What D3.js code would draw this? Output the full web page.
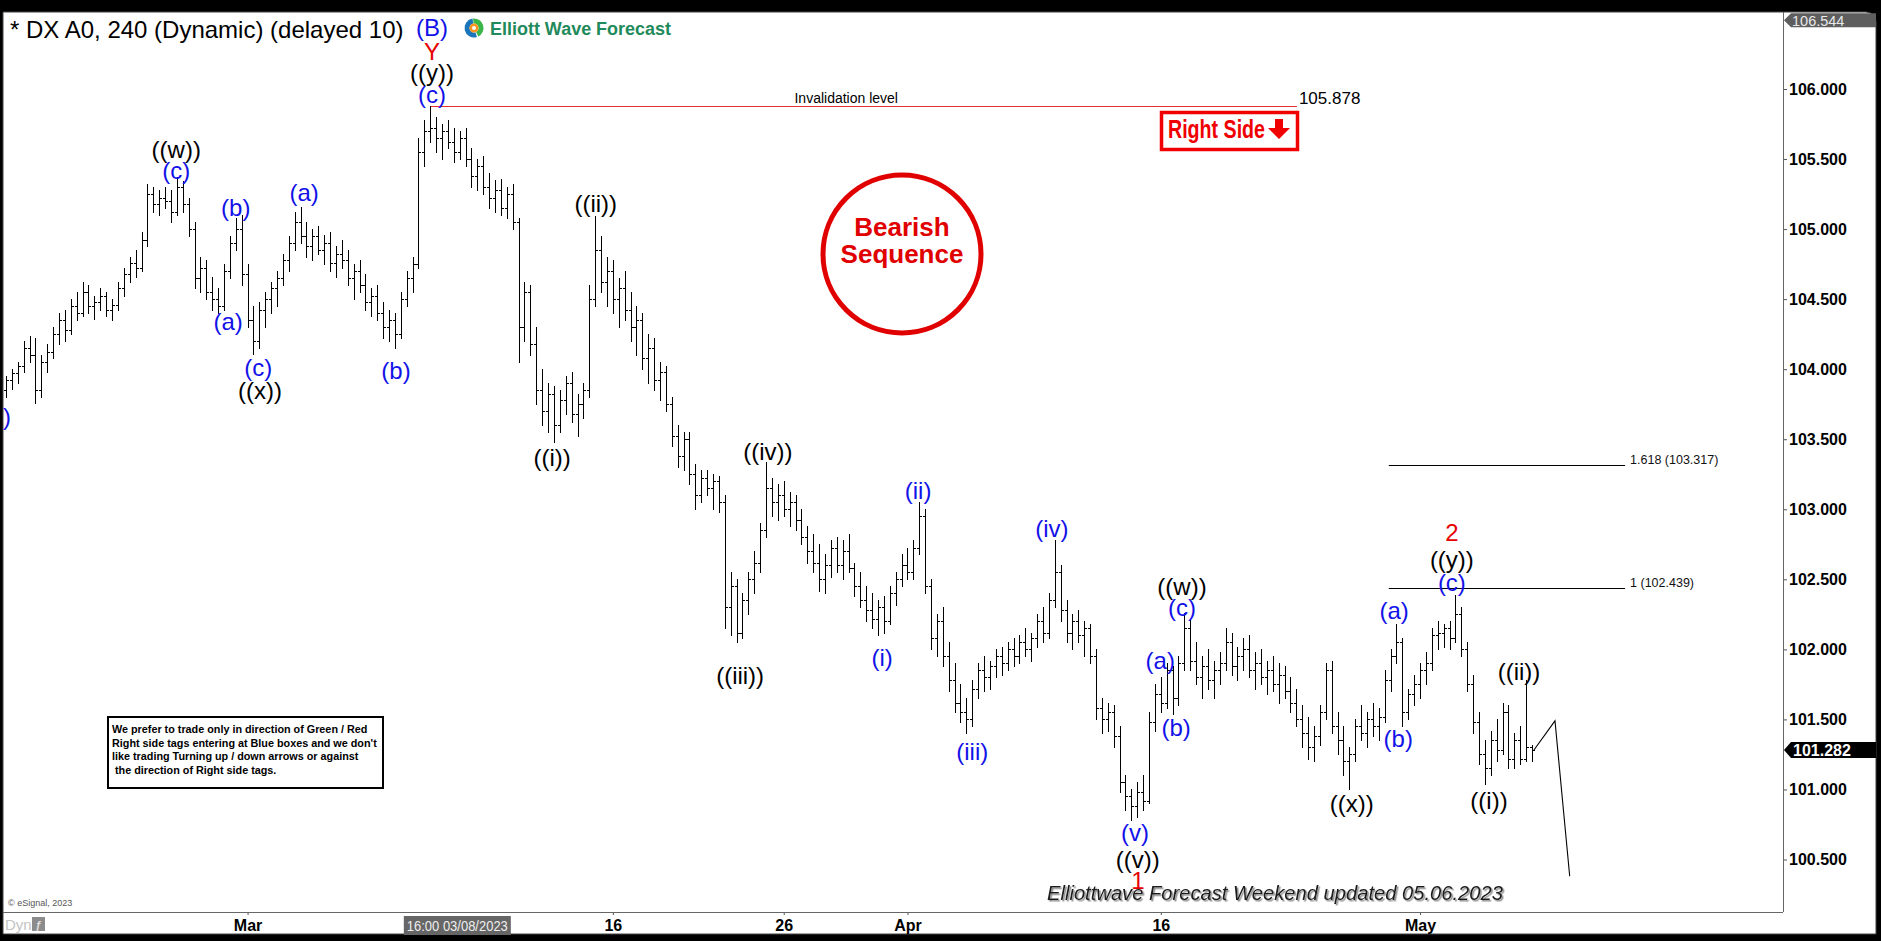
<!DOCTYPE html>
<html><head><meta charset="utf-8">
<script src="https://cdn.jsdelivr.net/npm/d3@7"></script>
<style>
html,body{margin:0;padding:0;background:#000;overflow:hidden}
svg{display:block}
text{font-family:"Liberation Sans",Arial,Helvetica,sans-serif}
</style></head><body>
<svg id="c" width="1881" height="941"></svg>
<script>
// ---- DATA ----
// 4H OHLC bars: [open, high, low, close]
const bars = [
[103.85,103.95,103.80,103.92],[103.92,104.00,103.86,103.97],[103.97,104.05,103.90,104.02],[104.02,104.20,103.98,104.15],
[104.15,104.24,104.05,104.10],[104.10,104.22,103.76,103.85],[103.85,104.10,103.80,104.05],[104.05,104.18,103.98,104.12],
[104.12,104.30,104.08,104.25],[104.25,104.40,104.18,104.35],[104.35,104.42,104.20,104.28],[104.28,104.50,104.25,104.45],
[104.45,104.55,104.35,104.40],[104.40,104.62,104.38,104.55],[104.55,104.60,104.40,104.45],[104.45,104.52,104.36,104.48],
[104.48,104.58,104.42,104.52],[104.52,104.55,104.38,104.42],[104.42,104.50,104.35,104.46],[104.46,104.62,104.42,104.58],
[104.58,104.72,104.52,104.68],[104.68,104.80,104.62,104.76],[104.76,104.85,104.66,104.72],[104.72,104.98,104.70,104.92],
[104.92,105.32,104.88,105.25],[105.25,105.30,105.12,105.18],[105.18,105.28,105.10,105.22],[105.22,105.30,105.15,105.20],
[105.20,105.28,105.05,105.12],[105.12,105.37,105.10,105.30],[105.30,105.34,105.12,105.18],[105.18,105.22,104.95,105.00],
[105.00,105.05,104.58,104.65],[104.65,104.80,104.55,104.72],[104.72,104.78,104.50,104.55],[104.55,104.66,104.42,104.50],
[104.50,104.58,104.40,104.45],[104.45,104.75,104.42,104.70],[104.70,104.95,104.65,104.90],[104.90,105.08,104.85,105.00],
[105.00,105.10,104.60,104.68],[104.68,104.75,104.30,104.35],[104.35,104.45,104.11,104.20],[104.20,104.48,104.15,104.42],
[104.42,104.55,104.30,104.50],[104.50,104.62,104.40,104.58],[104.58,104.70,104.45,104.65],[104.65,104.82,104.60,104.78],
[104.78,104.95,104.70,104.90],[104.90,105.12,104.85,105.05],[105.05,105.16,104.90,104.95],[104.95,105.05,104.80,104.88],
[104.88,105.00,104.78,104.95],[104.95,105.02,104.82,104.85],[104.85,104.96,104.75,104.90],[104.90,104.98,104.70,104.76],
[104.76,104.88,104.66,104.82],[104.82,104.92,104.72,104.78],[104.78,104.85,104.60,104.65],[104.65,104.75,104.50,104.70],
[104.70,104.78,104.55,104.60],[104.60,104.68,104.42,104.48],[104.48,104.58,104.38,104.52],[104.52,104.60,104.35,104.40],
[104.40,104.48,104.22,104.30],[104.30,104.42,104.20,104.35],[104.35,104.40,104.15,104.25],[104.25,104.55,104.22,104.50],
[104.50,104.70,104.45,104.65],[104.65,104.80,104.55,104.75],[104.75,105.65,104.72,105.55],[105.55,105.78,105.45,105.70],
[105.70,105.878,105.62,105.72],[105.72,105.80,105.55,105.65],[105.65,105.75,105.50,105.70],[105.70,105.78,105.58,105.62],
[105.62,105.72,105.48,105.55],[105.55,105.70,105.50,105.65],[105.65,105.72,105.45,105.50],[105.50,105.58,105.30,105.38],
[105.38,105.50,105.28,105.45],[105.45,105.52,105.25,105.30],[105.30,105.40,105.15,105.22],[105.22,105.35,105.12,105.28],
[105.28,105.36,105.10,105.15],[105.15,105.30,105.08,105.25],[105.25,105.32,105.00,105.05],[105.05,105.08,104.05,104.30],
[104.30,104.62,104.20,104.55],[104.55,104.60,104.10,104.18],[104.18,104.30,103.75,103.85],[103.85,104.00,103.60,103.70],
[103.70,103.90,103.55,103.82],[103.82,103.88,103.48,103.60],[103.60,103.85,103.55,103.78],[103.78,103.95,103.68,103.90],
[103.90,103.98,103.62,103.68],[103.68,103.82,103.52,103.75],[103.75,103.90,103.65,103.85],[103.85,104.60,103.80,104.50],
[104.50,105.09,104.45,104.85],[104.85,104.95,104.55,104.62],[104.62,104.80,104.45,104.70],[104.70,104.78,104.40,104.50],
[104.50,104.65,104.30,104.58],[104.58,104.70,104.35,104.42],[104.42,104.55,104.20,104.30],[104.30,104.45,104.10,104.35],
[104.35,104.40,104.00,104.08],[104.08,104.25,103.90,104.15],[104.15,104.22,103.85,103.92],[103.92,104.05,103.78,103.98],
[103.98,104.02,103.70,103.75],[103.75,103.80,103.45,103.52],[103.52,103.60,103.30,103.38],[103.38,103.55,103.28,103.50],
[103.50,103.55,103.18,103.25],[103.25,103.32,103.00,103.10],[103.10,103.28,103.05,103.22],[103.22,103.28,103.10,103.15],
[103.15,103.25,103.00,103.20],[103.20,103.24,102.98,103.05],[103.05,103.10,102.15,102.30],[102.30,102.55,102.10,102.45],
[102.45,102.50,102.05,102.12],[102.12,102.40,102.08,102.35],[102.35,102.55,102.25,102.50],[102.50,102.70,102.40,102.62],
[102.62,102.90,102.55,102.85],[102.85,103.34,102.80,103.15],[103.15,103.22,102.95,103.05],[103.05,103.18,102.92,103.10],
[103.10,103.20,102.95,103.00],[103.00,103.12,102.88,103.05],[103.05,103.10,102.85,102.92],[102.92,103.00,102.75,102.80],
[102.80,102.88,102.62,102.70],[102.70,102.82,102.55,102.62],[102.62,102.75,102.42,102.50],[102.50,102.68,102.40,102.60],
[102.60,102.78,102.52,102.72],[102.72,102.80,102.55,102.60],[102.60,102.78,102.50,102.70],[102.70,102.82,102.55,102.58],
[102.58,102.62,102.38,102.45],[102.45,102.55,102.30,102.35],[102.35,102.45,102.20,102.28],[102.28,102.40,102.15,102.22],
[102.22,102.35,102.10,102.30],[102.30,102.38,102.12,102.20],[102.20,102.45,102.18,102.40],[102.40,102.55,102.32,102.50],
[102.50,102.68,102.45,102.60],[102.60,102.72,102.50,102.55],[102.55,102.78,102.50,102.72],[102.72,103.05,102.68,102.95],
[102.95,103.00,102.40,102.45],[102.45,102.50,102.00,102.08],[102.08,102.25,101.95,102.20],[102.20,102.30,101.88,101.95],
[101.95,102.05,101.70,101.78],[101.78,101.90,101.55,101.62],[101.62,101.75,101.48,101.55],[101.55,101.65,101.40,101.50],
[101.50,101.78,101.45,101.72],[101.72,101.90,101.65,101.85],[101.85,101.95,101.70,101.80],[101.80,101.92,101.72,101.88],
[101.88,102.00,101.80,101.95],[101.95,102.02,101.82,101.90],[101.90,102.05,101.85,102.00],[102.00,102.08,101.88,101.95],
[101.95,102.10,101.90,102.05],[102.05,102.15,101.95,102.00],[102.00,102.12,101.92,102.08],[102.08,102.25,102.02,102.20],
[102.20,102.30,102.05,102.12],[102.12,102.40,102.08,102.35],[102.35,102.78,102.30,102.55],[102.55,102.60,102.20,102.28],
[102.28,102.35,102.05,102.12],[102.12,102.25,102.00,102.20],[102.20,102.28,102.05,102.10],[102.10,102.20,101.95,102.15],
[102.15,102.18,101.90,101.95],[101.95,102.00,101.50,101.58],[101.58,101.65,101.40,101.50],[101.50,101.62,101.42,101.55],
[101.55,101.60,101.30,101.38],[101.38,101.45,100.98,101.05],[101.05,101.10,100.85,100.95],[100.95,101.00,100.78,100.88],
[100.88,101.05,100.80,100.98],[100.98,101.10,100.85,100.92],[100.92,101.55,100.90,101.48],[101.48,101.75,101.42,101.68],
[101.68,101.80,101.55,101.62],[101.62,101.90,101.58,101.85],[101.85,101.88,101.54,101.65],[101.65,101.95,101.60,101.90],
[101.90,102.26,101.85,102.15],[102.15,102.22,101.85,101.92],[101.92,102.05,101.75,101.80],[101.80,101.95,101.65,101.88],
[101.88,102.00,101.72,101.78],[101.78,101.92,101.65,101.85],[101.85,101.98,101.75,101.90],[101.90,102.15,101.85,102.05],
[102.05,102.12,101.82,101.88],[101.88,102.02,101.78,101.95],[101.95,102.08,101.85,102.00],[102.00,102.10,101.80,101.85],
[101.85,101.98,101.72,101.90],[101.90,102.00,101.75,101.80],[101.80,101.92,101.68,101.85],[101.85,101.95,101.70,101.75],
[101.75,101.90,101.62,101.82],[101.82,101.88,101.65,101.70],[101.70,101.80,101.55,101.62],[101.62,101.72,101.45,101.50],
[101.50,101.60,101.30,101.40],[101.40,101.52,101.22,101.30],[101.30,101.45,101.20,101.38],[101.38,101.60,101.32,101.55],
[101.55,101.90,101.50,101.85],[101.85,101.92,101.40,101.45],[101.45,101.55,101.25,101.35],[101.35,101.45,101.10,101.20],
[101.20,101.30,101.00,101.25],[101.25,101.50,101.20,101.45],[101.45,101.60,101.35,101.40],[101.40,101.55,101.30,101.50],
[101.50,101.62,101.38,101.45],[101.45,101.58,101.35,101.52],[101.52,101.85,101.48,101.78],[101.78,102.00,101.70,101.95],
[101.95,102.18,101.90,102.05],[102.05,102.08,101.45,101.55],[101.55,101.72,101.50,101.68],[101.68,101.82,101.60,101.75],
[101.75,101.90,101.65,101.85],[101.85,101.98,101.75,101.90],[101.90,102.15,101.85,102.10],[102.10,102.20,102.00,102.12],
[102.12,102.18,102.02,102.15],[102.15,102.20,102.00,102.08],[102.08,102.39,102.05,102.25],[102.25,102.30,101.95,102.00],
[102.00,102.05,101.70,101.75],[101.75,101.82,101.40,101.48],[101.48,101.55,101.18,101.25],[101.25,101.35,101.04,101.15],
[101.15,101.42,101.10,101.35],[101.35,101.50,101.20,101.28],[101.28,101.62,101.25,101.55],[101.55,101.60,101.15,101.22],
[101.22,101.40,101.15,101.35],[101.35,101.45,101.18,101.22],[101.22,101.78,101.20,101.30],[101.30,101.32,101.20,101.282]
];
const dateTickBars = [41, 103, 132, 153, 196, 240];
const dateTickLabels = ["Mar", "16", "26", "Apr", "16", "May"];
const priceTicks = [100.5, 101, 101.5, 102, 102.5, 103, 103.5, 104, 104.5, 105, 105.5, 106];
const lastPrice = 101.282;
const topPrice = 106.544;
const invalidationPrice = 105.878;
const invalidationBars = [72, 219.1];
const fibRatios = ["1.618", "1"];
const fibPrices = [103.317, 102.439];
const fibBars = [234.7, 274.8];
const cursorBar = 76.6;
const cursorLabel = "16:00 03/08/2023";
// wave labels: [text, bar index, price, colour key, anchor]
const waveLabels = [
["(b)", 0.85, 103.66, "b", "end"],
["((w))", 28.9, 105.57, "k"], ["(c)", 28.9, 105.42, "b"],
["(b)", 39.0, 105.15, "b"], ["(a)", 37.7, 104.34, "b"],
["(c)", 42.8, 104.01, "b"], ["((x))", 43.1, 103.85, "k"],
["(a)", 50.6, 105.26, "b"], ["(b)", 66.2, 103.99, "b"],
["(B)", 72.3, 106.44, "b"], ["Y", 72.3, 106.27, "r"], ["((y))", 72.3, 106.12, "k"], ["(c)", 72.3, 105.96, "b"],
["((i))", 92.7, 103.37, "k"], ["((ii))", 100.1, 105.18, "k"],
["((iii))", 124.6, 101.81, "k"], ["((iv))", 129.3, 103.41, "k"],
["(i)", 148.7, 101.94, "b"], ["(ii)", 154.8, 103.13, "b"],
["(iii)", 164.0, 101.27, "b"], ["(iv)", 177.5, 102.86, "b"],
["(v)", 191.6, 100.69, "b"], ["((v))", 192.1, 100.50, "k"], ["1", 192.1, 100.35, "r"],
["(a)", 195.9, 101.92, "b"], ["(b)", 198.6, 101.44, "b"],
["((w))", 199.6, 102.45, "k"], ["(c)", 199.6, 102.30, "b"],
["((x))", 228.4, 100.90, "k"],
["(a)", 235.6, 102.28, "b"], ["(b)", 236.3, 101.36, "b"],
["2", 245.4, 102.83, "r"], ["((y))", 245.4, 102.64, "k"], ["(c)", 245.4, 102.48, "b"],
["((i))", 251.7, 100.92, "k"], ["((ii))", 256.8, 101.84, "k"]
];
const forecastPath = [[259.3, 101.28], [262.9, 101.49], [265.4, 100.38]];
const noteLines = [
"We prefer to trade only in direction of Green / Red",
"Right side tags entering at Blue boxes and we don't",
"like trading Turning up / down arrows or against",
" the direction of Right side tags."
];

// ---- DRAW ----
const W = 1881, H = 941;
const L = 3, R = 1783, T = 12, B = 912;
const colors = {b: "#1212e8", k: "#000000", r: "#e60000"};
const svg = d3.select("#c");

const x = d3.scaleLinear().domain([0, bars.length - 1]).range([6, 1532]);
const y = d3.scaleLinear().domain([100.5, 106]).range([859.5, 89]);

const defs = svg.append("defs");
const sh = defs.append("filter").attr("id", "shadow").attr("x", "-5%").attr("y", "-30%").attr("width", "110%").attr("height", "160%");
sh.append("feDropShadow").attr("dx", 1.5).attr("dy", 1.5).attr("stdDeviation", 0.4).attr("flood-color", "#8a8a8a").attr("flood-opacity", 1);

svg.append("rect").attr("width", W).attr("height", H).attr("fill", "#000");
svg.append("path").attr("fill", "#fff").attr("stroke", "#444").attr("stroke-width", 1)
  .attr("d", `M${L},${T} H1866 A10,10 0 0 1 1876,${T + 10} V934 H${L} Z`);

const clip = defs.append("clipPath").attr("id", "plot");
clip.append("rect").attr("x", L).attr("y", T).attr("width", R - L).attr("height", B - T);

// axes
const yAxis = d3.axisRight(y).tickValues(priceTicks).tickFormat(d3.format(".3f")).tickSize(4).tickPadding(2);
const gy = svg.append("g").attr("transform", `translate(${R},0)`).call(yAxis);
gy.select(".domain").remove();
gy.selectAll("line").attr("stroke", "#555");
gy.selectAll("text").attr("font-size", 16).attr("font-weight", "bold").attr("fill", "#000")
  .attr("font-family", "'Liberation Sans',Arial,sans-serif");

const xAxis = d3.axisBottom(x).tickValues(dateTickBars).tickFormat((d, i) => dateTickLabels[i]).tickSize(3).tickPadding(4.6);
const gx = svg.append("g").attr("transform", `translate(0,${B})`).call(xAxis);
gx.select(".domain").remove();
gx.selectAll("line").attr("stroke", "#555");
gx.selectAll("text").attr("font-size", 16).attr("font-weight", "bold").attr("fill", "#000")
  .attr("font-family", "'Liberation Sans',Arial,sans-serif");

svg.append("line").attr("x1", R + 0.5).attr("x2", R + 0.5).attr("y1", T).attr("y2", B).attr("stroke", "#666");
svg.append("line").attr("x1", L).attr("x2", R).attr("y1", B + 0.5).attr("y2", B + 0.5).attr("stroke", "#666");

const plot = svg.append("g").attr("clip-path", "url(#plot)");

// invalidation line
const yInv = Math.round(y(invalidationPrice)) + 0.5;
plot.append("line").attr("x1", x(invalidationBars[0])).attr("x2", x(invalidationBars[1]))
  .attr("y1", yInv).attr("y2", yInv).attr("stroke", "#e83030").attr("stroke-width", 1);
plot.append("text").attr("x", x(invalidationBars[0]) * 0.52 + x(invalidationBars[1]) * 0.48).attr("y", yInv - 4)
  .attr("text-anchor", "middle").attr("font-size", 14).attr("fill", "#000").text("Invalidation level");
plot.append("text").attr("x", x(invalidationBars[1]) + 2).attr("y", yInv - 3)
  .attr("font-family", "'Liberation Serif','Times New Roman',serif").attr("font-size", 17).attr("fill", "#000")
  .text(invalidationPrice.toFixed(3));

// fib lines
fibPrices.forEach((p, k) => {
  const yy = Math.round(y(p)) + 0.5;
  plot.append("line").attr("x1", x(fibBars[0])).attr("x2", x(fibBars[1])).attr("y1", yy).attr("y2", yy)
    .attr("stroke", "#000").attr("stroke-width", 1);
  plot.append("text").attr("x", x(fibBars[1]) + 5).attr("y", yy - 2).attr("font-size", 12.5)
    .attr("font-family", "'DejaVu Sans Condensed','Liberation Sans',sans-serif")
    .attr("fill", "#111").text(`${fibRatios[k]} (${p.toFixed(3)})`);
});

// OHLC bars
plot.append("g").selectAll("path").data(bars).join("path")
  .attr("fill", "none").attr("stroke", "#000").attr("stroke-width", 1).attr("shape-rendering", "crispEdges")
  .attr("d", (d, i) => {
    const xx = Math.round(x(i)) + 0.5;
    const yo = Math.round(y(d[0])) + 0.5, yh = Math.round(y(d[1])), yl = Math.round(y(d[2])) + 1, yc = Math.round(y(d[3])) + 0.5;
    return `M${xx},${yh}V${yl}M${xx - 2.5},${yo}H${xx}M${xx},${yc}H${xx + 2.5}`;
  });

// forecast path
plot.append("path").attr("fill", "none").attr("stroke", "#000").attr("stroke-width", 1.1)
  .attr("d", d3.line().x(d => x(d[0])).y(d => y(d[1]))(forecastPath));

// wave labels
plot.append("g").selectAll("text").data(waveLabels).join("text")
  .attr("x", d => x(d[1])).attr("y", d => y(d[2])).attr("dy", "0.35em")
  .attr("text-anchor", d => d[4] || "middle").attr("font-size", 24)
  .attr("fill", d => colors[d[3]]).text(d => d[0]);

// title
svg.append("text").attr("x", 10).attr("y", 38).attr("font-size", 24).attr("fill", "#000")
  .text("* DX A0, 240 (Dynamic) (delayed 10)");

// logo
const lg = svg.append("g").attr("transform", "translate(474,28)");
lg.append("circle").attr("r", 9.5).attr("fill", "#fff");
const arc = d3.arc();
lg.append("path").attr("fill", "#1b75bb").attr("d", arc({innerRadius: 4.5, outerRadius: 9.5, startAngle: Math.PI * 0.9, endAngle: Math.PI * 1.95}));
lg.append("path").attr("fill", "#39b54a").attr("d", arc({innerRadius: 4.5, outerRadius: 9.5, startAngle: -0.1, endAngle: Math.PI * 0.85}));
lg.append("path").attr("fill", "#f7941d").attr("d", arc({innerRadius: 2, outerRadius: 4.5, startAngle: 0, endAngle: Math.PI * 2}));
svg.append("text").attr("x", 490).attr("y", 35).attr("font-size", 18).attr("font-weight", "bold")
  .attr("fill", "#1f8a5b").attr("textLength", 181).attr("lengthAdjust", "spacingAndGlyphs").text("Elliott Wave Forecast");

// Bearish Sequence circle
svg.append("circle").attr("cx", 902).attr("cy", 254).attr("r", 79).attr("fill", "none").attr("stroke", "#e10000").attr("stroke-width", 5);
svg.append("text").attr("x", 902).attr("y", 236).attr("text-anchor", "middle").attr("font-size", 26).attr("font-weight", "bold").attr("fill", "#e10000").text("Bearish");
svg.append("text").attr("x", 902).attr("y", 263).attr("text-anchor", "middle").attr("font-size", 26).attr("font-weight", "bold").attr("fill", "#e10000").text("Sequence");

// Right side tag
svg.append("rect").attr("x", 1161.5).attr("y", 112.5).attr("width", 136).attr("height", 37).attr("fill", "#fff").attr("stroke", "#f00000").attr("stroke-width", 3.5);
svg.append("text").attr("x", 1168).attr("y", 138).attr("font-size", 26).attr("font-weight", "bold").attr("fill", "#f00000")
  .attr("font-family", "'Liberation Sans Narrow','Arial Narrow','Liberation Sans',sans-serif")
  .attr("textLength", 97).attr("lengthAdjust", "spacingAndGlyphs").text("Right Side");
svg.append("path").attr("fill", "#f00000").attr("d", "M1275,119H1283V128H1290L1279,139L1268,128H1275Z");

// note box
svg.append("rect").attr("x", 108).attr("y", 717).attr("width", 275).attr("height", 71).attr("fill", "#fff").attr("stroke", "#000").attr("stroke-width", 2);
noteLines.forEach((t, k) => {
  svg.append("text").attr("x", 112).attr("y", 733 + k * 13.5).attr("font-size", 10.8).attr("font-weight", "bold")
    .attr("fill", "#000").attr("xml:space", "preserve").text(t);
});

// footer text
svg.append("text").attr("x", 1047).attr("y", 900).attr("font-size", 20).attr("font-style", "italic").attr("fill", "#1a1a1a")
  .attr("filter", "url(#shadow)").attr("textLength", 456).attr("lengthAdjust", "spacingAndGlyphs")
  .text("Elliottwave Forecast Weekend updated 05.06.2023");

// price tags
const yl = y(lastPrice);
svg.append("path").attr("fill", "#000").attr("d", `M${R + 1},${yl} L${R + 8},${yl - 8} H1876 V${yl + 8} H${R + 8} Z`);
svg.append("text").attr("x", 1793).attr("y", yl).attr("dy", "0.36em").attr("font-size", 16).attr("font-weight", "bold").attr("fill", "#fff").text(lastPrice.toFixed(3));
const yt = y(topPrice) + 7.5;
svg.append("path").attr("fill", "#5e5e5e").attr("d", `M${R + 1},${yt} L${R + 8},${yt - 7} H1876 V${yt + 7} H${R + 8} Z`);
svg.append("text").attr("x", 1792).attr("y", yt).attr("dy", "0.36em").attr("font-size", 14.5).attr("fill", "#e8e8e8").text(topPrice.toFixed(3));

// cursor date box
const cx = x(cursorBar);
svg.append("rect").attr("x", cx - 53.5).attr("y", 916).attr("width", 107).attr("height", 19).attr("fill", "#666");
svg.append("text").attr("x", cx).attr("y", 931).attr("text-anchor", "middle").attr("font-size", 15).attr("fill", "#eee")
  .attr("font-family", "'Liberation Sans Narrow','Arial Narrow','Liberation Sans',sans-serif")
  .attr("textLength", 101).attr("lengthAdjust", "spacingAndGlyphs").text(cursorLabel);

// bottom-left bits
svg.append("text").attr("x", 8).attr("y", 906).attr("font-size", 9).attr("fill", "#555").text("© eSignal, 2023");
svg.append("text").attr("x", 5).attr("y", 930).attr("font-size", 15).attr("fill", "#c4c4c4").text("Dyn");
svg.append("rect").attr("x", 32).attr("y", 917).attr("width", 13).attr("height", 14).attr("fill", "#8c8c8c");
svg.append("text").attr("x", 38.5).attr("y", 929).attr("text-anchor", "middle").attr("font-size", 11).attr("font-weight", "bold").attr("fill", "#e0e0e0").text("ƒ");
</script>
</body></html>
